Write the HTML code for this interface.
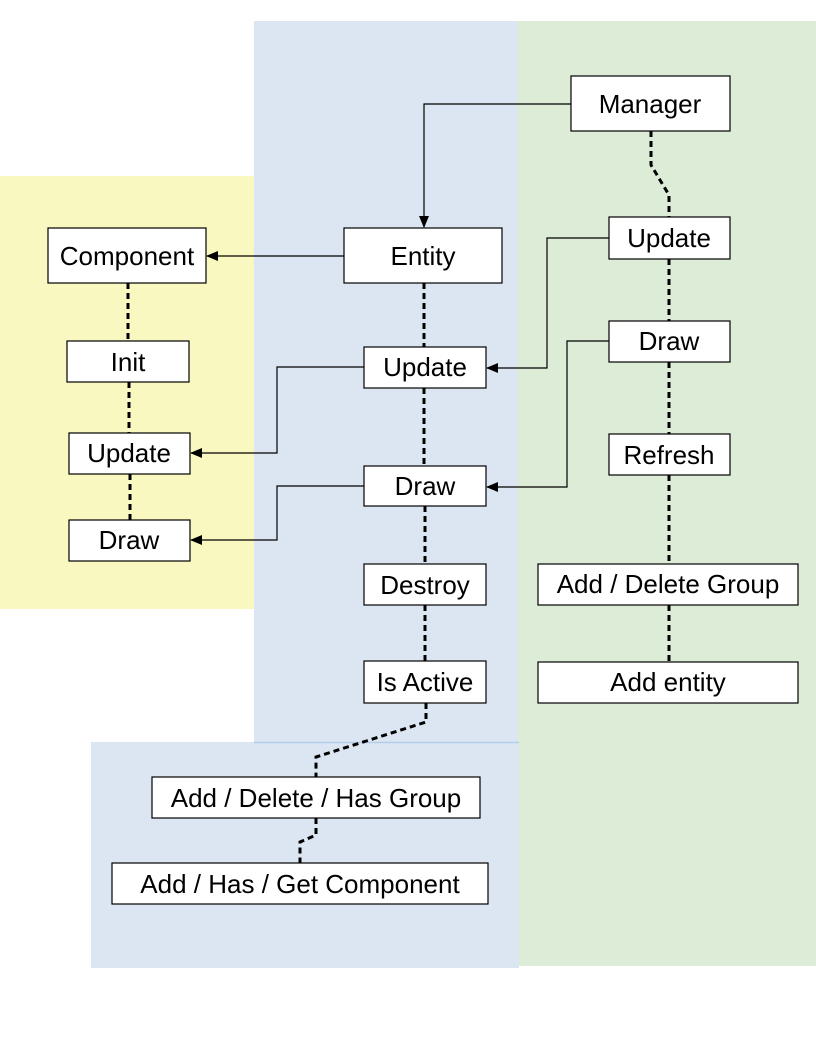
<!DOCTYPE html>
<html><head><meta charset="utf-8"><style>body{margin:0;background:#fff}svg{display:block}</style></head>
<body>
<svg width="816" height="1056" xmlns="http://www.w3.org/2000/svg" font-family="Liberation Sans, sans-serif" font-size="26">
<defs><marker id="a" markerWidth="12" markerHeight="10" refX="11" refY="5" orient="auto" markerUnits="userSpaceOnUse"><path d="M0,0 L12,5 L0,10 Z" fill="#000"/></marker></defs>
<rect x="518" y="21" width="298" height="945" fill="#dcecd6"/>
<rect x="254" y="21" width="264" height="722" fill="#dce6f2"/>
<rect x="91" y="742" width="428" height="226" fill="#dce6f2"/>
<line x1="254" y1="742.5" x2="519" y2="742.5" stroke="#b3cde8" stroke-width="1.5"/>
<rect x="0" y="176" width="254" height="433" fill="#f8f8c0"/>
<g fill="none" stroke="#000" stroke-width="1.2">
<path d="M571,104 H424 V227" marker-end="url(#a)"/>
<path d="M344,256 H207" marker-end="url(#a)"/>
<path d="M609,238 H547 V368 H487" marker-end="url(#a)"/>
<path d="M609,341 H567 V487 H487" marker-end="url(#a)"/>
<path d="M364,367 H277 V453 H191" marker-end="url(#a)"/>
<path d="M364,486 H277 V540 H191" marker-end="url(#a)"/>
</g>
<g fill="none" stroke="#000" stroke-width="3" stroke-dasharray="6,4">
<path d="M651,131 V165 L669,195 V217"/>
<path d="M669,259 V321 M669,362 V434 M669,475 V564 M669,605 V662"/>
<path d="M128,283 V341 M129,382 V433 M130,474 V520"/>
<path d="M424,283 V347 M424,388 V466 M425,506 V564 M425,605 V661"/>
<path d="M426,703 V722 L316,757 V777"/>
<path d="M316,818 V835 L300,842 V863"/>
</g>
<g fill="#fff" stroke="#000" stroke-width="1.2">
<rect x="571" y="76" width="159" height="55"/>
<rect x="344" y="228" width="158" height="55"/>
<rect x="48" y="228" width="158" height="55"/>
<rect x="67" y="341" width="122" height="41"/>
<rect x="69" y="433" width="121" height="41"/>
<rect x="69" y="520" width="121" height="41"/>
<rect x="364" y="347" width="122" height="41"/>
<rect x="364" y="466" width="122" height="40"/>
<rect x="364" y="564" width="122" height="41"/>
<rect x="364" y="661" width="122" height="42"/>
<rect x="609" y="217" width="121" height="42"/>
<rect x="609" y="321" width="121" height="41"/>
<rect x="609" y="434" width="121" height="41"/>
<rect x="538" y="564" width="260" height="41"/>
<rect x="538" y="662" width="260" height="41"/>
<rect x="152" y="777" width="328" height="41"/>
<rect x="112" y="863" width="376" height="41"/>
</g>
<g text-anchor="middle" fill="#000">
<text x="650" y="113">Manager</text>
<text x="423" y="265">Entity</text>
<text x="127" y="265">Component</text>
<text x="128" y="371">Init</text>
<text x="129" y="462">Update</text>
<text x="129" y="549">Draw</text>
<text x="425" y="376">Update</text>
<text x="425" y="495">Draw</text>
<text x="425" y="594">Destroy</text>
<text x="425" y="691">Is Active</text>
<text x="669" y="247">Update</text>
<text x="669" y="350">Draw</text>
<text x="669" y="464">Refresh</text>
<text x="668" y="593">Add / Delete Group</text>
<text x="668" y="691">Add entity</text>
<text x="316" y="807">Add / Delete / Has Group</text>
<text x="300" y="893">Add / Has / Get Component</text>
</g>
</svg>
</body></html>
